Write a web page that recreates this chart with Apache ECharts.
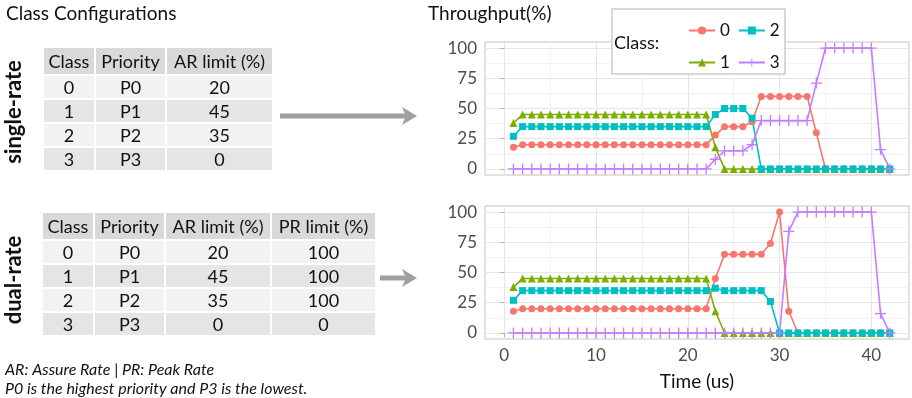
<!DOCTYPE html>
<html>
<head>
<meta charset="utf-8">
<script src="https://cdn.jsdelivr.net/npm/echarts@6/dist/echarts.min.js"></script>
<style>
  html, body { margin: 0; padding: 0; background: #fff; }
  #chart { width: 912px; height: 398px; }
</style>
</head>
<body>
<div id="chart"></div>
<script>
// --- data ---
const timeUs = [1, 2, 3, 4, 5, 6, 7, 8, 9, 10, 11, 12, 13, 14, 15, 16, 17, 18, 19, 20, 21,
  22, 23, 24, 25, 26, 27, 28, 29, 30, 31, 32, 33, 34, 35, 36, 37, 38, 39, 40, 41, 42];

// single-rate throughput (%) per class
const single0 = [18, 20, 20, 20, 20, 20, 20, 20, 20, 20, 20, 20, 20, 20, 20, 20, 20, 20, 20, 20, 20,
  20, 28, 35, 35, 35, 39, 60, 60, 60, 60, 60, 60, 30, 0, 0, 0, 0, 0, 0, 0, 0];
const single1 = [38, 45, 45, 45, 45, 45, 45, 45, 45, 45, 45, 45, 45, 45, 45, 45, 45, 45, 45, 45, 45,
  45, 18, 0, 0, 0, 0, 0, 0, 0, 0, 0, 0, 0, 0, 0, 0, 0, 0, 0, 0, 0];
const single2 = [27, 35, 35, 35, 35, 35, 35, 35, 35, 35, 35, 35, 35, 35, 35, 35, 35, 35, 35, 35, 35,
  35, 45, 50, 50, 50, 42, 0, 0, 0, 0, 0, 0, 0, 0, 0, 0, 0, 0, 0, 0, 0];
const single3 = [0, 0, 0, 0, 0, 0, 0, 0, 0, 0, 0, 0, 0, 0, 0, 0, 0, 0, 0, 0, 0,
  0, 8, 15, 15, 15, 20, 40, 40, 40, 40, 40, 40, 71, 100, 100, 100, 100, 100, 100, 16, 0];

// dual-rate throughput (%) per class
const dual0 = [18, 20, 20, 20, 20, 20, 20, 20, 20, 20, 20, 20, 20, 20, 20, 20, 20, 20, 20, 20, 20,
  20, 45, 65, 65, 65, 65, 65, 74, 100, 18, 0, 0, 0, 0, 0, 0, 0, 0, 0, 0, 0];
const dual1 = [38, 45, 45, 45, 45, 45, 45, 45, 45, 45, 45, 45, 45, 45, 45, 45, 45, 45, 45, 45, 45,
  45, 18, 0, 0, 0, 0, 0, 0, 0, 0, 0, 0, 0, 0, 0, 0, 0, 0, 0, 0, 0];
const dual2 = [27, 35, 35, 35, 35, 35, 35, 35, 35, 35, 35, 35, 35, 35, 35, 35, 35, 35, 35, 35, 35,
  35, 37, 35, 35, 35, 35, 35, 26, 0, 0, 0, 0, 0, 0, 0, 0, 0, 0, 0, 0, 0];
const dual3 = [0, 0, 0, 0, 0, 0, 0, 0, 0, 0, 0, 0, 0, 0, 0, 0, 0, 0, 0, 0, 0,
  0, 0, 0, 0, 0, 0, 0, 0, 0, 84, 100, 100, 100, 100, 100, 100, 100, 100, 100, 16, 0];

// tables
const singleHeader = ['Class', 'Priority', 'AR limit (%)'];
const dualHeader = ['Class', 'Priority', 'AR limit (%)', 'PR limit (%)'];
const classIds = ['0', '1', '2', '3'];
const priorities = ['P0', 'P1', 'P2', 'P3'];
const arLimits = [20, 45, 35, 0];
const prLimits = [100, 100, 100, 0];

// ticks
const xMajor = [0, 10, 20, 30, 40];
const xMinor = [5, 15, 25, 35];
const yMajor = [0, 25, 50, 75, 100];
const yMinor = [12.5, 37.5, 62.5, 87.5];

const FONT = 'Lato, "Open Sans", sans-serif';
const colors = ['#F8766D', '#7CAE00', '#00BFC4', '#C77CFF'];
const plusPath = 'path://M4.4,0H5.6V4.4H10V5.6H5.6V10H4.4V5.6H0V4.4H4.4Z';
const symbols = [
  { symbol: 'circle', size: 7 },
  { symbol: 'triangle', size: 8 },
  { symbol: 'rect', size: 7 },
  { symbol: plusPath, size: 11 }
];

const chart = echarts.init(document.getElementById('chart'));

// builds the grey gridExtra-like table out of rects + texts
function buildTable(x0, y0, header, rows, colW) {
  const headH = 26, rowH = 22, gap = 2;
  const out = [];
  let y = y0;
  const addRow = (cells, h, fill) => {
    let x = x0;
    cells.forEach((txt, c) => {
      out.push({ type: 'rect', shape: { x: x, y: y, width: colW[c], height: h }, style: { fill: fill } });
      out.push({
        type: 'text', x: x + colW[c] / 2, y: y + h / 2 + 1,
        style: { text: txt, fill: '#111', font: '18px ' + FONT, align: 'center', verticalAlign: 'middle' }
      });
      x += colW[c] + gap;
    });
    y += h + gap;
  };
  addRow(header, headH, '#d9d9d9');
  rows.forEach((r, i) => addRow(r, rowH, i % 2 === 0 ? '#f2f2f2' : '#e5e5e5'));
  return out;
}

function arrow(x1, x2, y) {
  return [
    { type: 'line', shape: { x1: x1, y1: y, x2: x2 - 8, y2: y }, style: { stroke: '#a0a0a0', lineWidth: 5 } },
    { type: 'polygon', shape: { points: [[x2 - 15, y - 9], [x2, y], [x2 - 15, y + 9], [x2 - 11, y]] }, style: { fill: '#a0a0a0' } }
  ];
}

const singleRows = classIds.map((c, i) => [c, priorities[i], String(arLimits[i])]);
const dualRows = classIds.map((c, i) => [c, priorities[i], String(arLimits[i]), String(prLimits[i])]);

function xAxesFor(gi, showLabels) {
  return [
    {
      type: 'value', gridIndex: gi, min: -2.1, max: 44.1,
      axisLine: { show: false },
      axisTick: { show: showLabels, customValues: xMajor, length: 4, lineStyle: { color: '#b3b3b3' } },
      axisLabel: { show: showLabels, customValues: xMajor, margin: 8, fontSize: 17, color: '#4d4d4d', fontFamily: FONT },
      splitLine: { show: true, lineStyle: { color: '#e6e6e6', width: 1 } },
      name: showLabels ? 'Time (us)' : '', nameLocation: 'middle', nameGap: 33,
      nameTextStyle: { fontSize: 19, color: '#111', fontFamily: FONT }
    },
    {
      type: 'value', gridIndex: gi, min: -2.1, max: 44.1, position: 'top',
      axisLine: { show: false },
      axisTick: { show: false, customValues: xMinor },
      axisLabel: { show: false },
      splitLine: { show: true, lineStyle: { color: '#f2f2f2', width: 1 } }
    }
  ];
}

function yAxesFor(gi) {
  return [
    {
      type: 'value', gridIndex: gi, min: -5, max: 105,
      axisLine: { show: false },
      axisTick: { show: true, customValues: yMajor, length: 4, lineStyle: { color: '#b3b3b3' } },
      axisLabel: { customValues: yMajor, margin: 8, fontSize: 17, color: '#4d4d4d', fontFamily: FONT },
      splitLine: { show: true, lineStyle: { color: '#e6e6e6', width: 1 } }
    },
    {
      type: 'value', gridIndex: gi, min: -5, max: 105, position: 'right',
      axisLine: { show: false },
      axisTick: { show: false, customValues: yMinor },
      axisLabel: { show: false },
      splitLine: { show: true, lineStyle: { color: '#f2f2f2', width: 1 } }
    }
  ];
}

function makeSeries(values, cls, gi) {
  return {
    name: String(cls), type: 'line',
    xAxisIndex: gi * 2, yAxisIndex: gi * 2,
    data: values.map((v, i) => [timeUs[i], v]),
    color: colors[cls],
    symbol: symbols[cls].symbol, symbolSize: symbols[cls].size, symbolKeepAspect: true,
    showAllSymbol: true,
    lineStyle: { width: 1.6 },
    emphasis: { disabled: true }
  };
}

const legendCommon = {
  orient: 'horizontal', itemWidth: 26, itemHeight: 10, itemGap: 8, z: 30,
  textStyle: { fontSize: 17, color: '#111', fontFamily: FONT },
  selectedMode: false
};

const option = {
  animation: false,
  grid: [
    { left: 485, top: 42, width: 424, height: 133, show: true, borderColor: '#c4c4c4', borderWidth: 1, backgroundColor: '#fff' },
    { left: 485, top: 206, width: 424, height: 133, show: true, borderColor: '#c4c4c4', borderWidth: 1, backgroundColor: '#fff' }
  ],
  xAxis: [...xAxesFor(0, false), ...xAxesFor(1, true)],
  yAxis: [...yAxesFor(0), ...yAxesFor(1)],
  legend: [
    Object.assign({ data: ['0', '2'], left: 683, top: 17 }, legendCommon),
    Object.assign({ data: ['1', '3'], left: 683, top: 49 }, legendCommon)
  ],
  series: [
    makeSeries(single0, 0, 0), makeSeries(single1, 1, 0), makeSeries(single2, 2, 0), makeSeries(single3, 3, 0),
    makeSeries(dual0, 0, 1), makeSeries(dual1, 1, 1), makeSeries(dual2, 2, 1), makeSeries(dual3, 3, 1)
  ],
  graphic: [
    {
      type: 'group', silent: true,
      children: [
        { type: 'text', x: 6, y: 14, style: { text: 'Class Configurations', font: '19px ' + FONT, fill: '#111', verticalAlign: 'middle' } },
        { type: 'text', x: 428, y: 14, style: { text: 'Throughput(%)', font: '19px ' + FONT, fill: '#111', verticalAlign: 'middle' } },
        { type: 'text', x: 14, y: 112, rotation: Math.PI / 2, style: { text: 'single-rate', font: 'bold 22px ' + FONT, fill: '#111', align: 'center', verticalAlign: 'middle' } },
        { type: 'text', x: 14, y: 280, rotation: Math.PI / 2, style: { text: 'dual-rate', font: 'bold 22px ' + FONT, fill: '#111', align: 'center', verticalAlign: 'middle' } },
        ...buildTable(44, 48, singleHeader, singleRows, [50, 69, 105]),
        ...buildTable(43, 213, dualHeader, dualRows, [50, 69, 104, 103]),
        ...arrow(280, 417, 116),
        ...arrow(380, 417, 278),
        { type: 'text', x: 5, y: 370, style: { text: 'AR: Assure Rate | PR: Peak Rate', font: 'italic 16px ' + FONT, fill: '#111', verticalAlign: 'middle' } },
        { type: 'text', x: 5, y: 389, style: { text: 'P0 is the highest priority and P3 is the lowest.', font: 'italic 16px ' + FONT, fill: '#111', verticalAlign: 'middle' } }
      ]
    },
    // legend box, drawn over the panel grid lines
    { type: 'rect', z: 20, silent: true, shape: { x: 612, y: 9, width: 173, height: 65 }, style: { fill: '#fff', stroke: '#cccccc', lineWidth: 1.5 } },
    { type: 'text', z: 21, silent: true, x: 614, y: 43, style: { text: 'Class:', font: '18px ' + FONT, fill: '#111', verticalAlign: 'middle' } }
  ]
};

chart.setOption(option);
</script>
</body>
</html>
